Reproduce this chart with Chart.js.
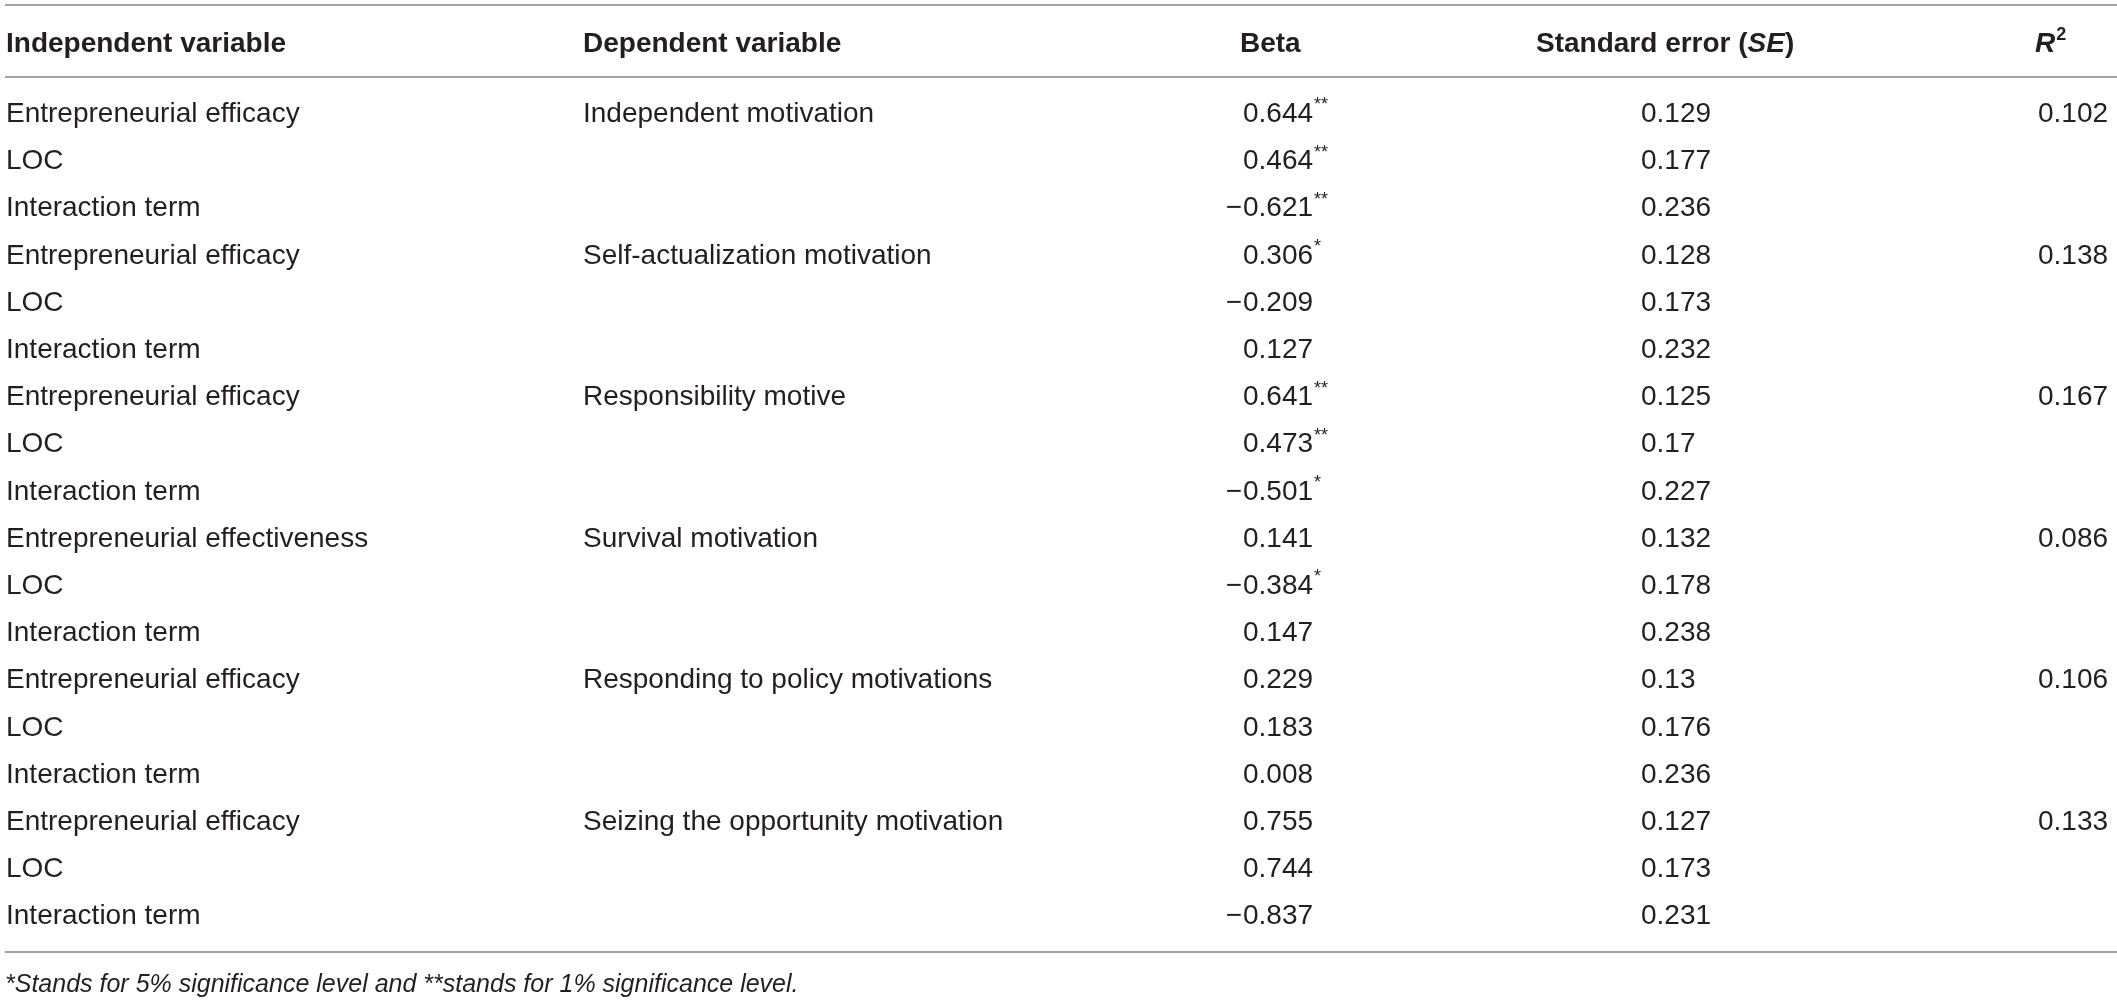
<!DOCTYPE html>
<html>
<head>
<meta charset="utf-8">
<script src="https://cdn.jsdelivr.net/npm/chart.js@4.4.1/dist/chart.umd.min.js"></script>
<style>
html, body { margin: 0; padding: 0; background: #fff; }
#wrap { position: relative; width: 2117px; height: 1001px; }
</style>
</head>
<body>
<div id="wrap"><canvas id="tableChart"></canvas></div>
<script>
// Table data
const independentVars = [
    'Entrepreneurial efficacy', 'LOC', 'Interaction term',
    'Entrepreneurial efficacy', 'LOC', 'Interaction term',
    'Entrepreneurial efficacy', 'LOC', 'Interaction term',
    'Entrepreneurial effectiveness', 'LOC', 'Interaction term',
    'Entrepreneurial efficacy', 'LOC', 'Interaction term',
    'Entrepreneurial efficacy', 'LOC', 'Interaction term'
];
const dependentVars = [
    'Independent motivation',
    'Self-actualization motivation',
    'Responsibility motive',
    'Survival motivation',
    'Responding to policy motivations',
    'Seizing the opportunity motivation'
];
const betaValues = [0.644, 0.464, -0.621, 0.306, -0.209, 0.127, 0.641, 0.473, -0.501,
    0.141, -0.384, 0.147, 0.229, 0.183, 0.008, 0.755, 0.744, -0.837];
const betaStars = ['**', '**', '**', '*', '', '', '**', '**', '*',
    '', '*', '', '', '', '', '', '', ''];
const seValues = [0.129, 0.177, 0.236, 0.128, 0.173, 0.232, 0.125, 0.17, 0.227,
    0.132, 0.178, 0.238, 0.13, 0.176, 0.236, 0.127, 0.173, 0.231];
const rSquared = [0.102, 0.138, 0.167, 0.086, 0.106, 0.133];
const footnote = '*Stands for 5% significance level and **stands for 1% significance level.';

// Layout
const FONT = '"Liberation Sans", Arial, sans-serif';
const TEXT_COLOR = '#231f20';
const RULE_COLOR = '#a3a3a3';
const ROW_PX = 47.2;
const FIRST_ROW_PX = 112;
const COL = { indep: 6, dep: 583, beta: 1243, se: 1641, r2: 2038 };
const HEADER_ROW = -1.483;
const RULE_ROWS = [-2.267, -0.742, 17.797];
const FOOT_ROW = 18.45;
const GROUP = 3;

function fmtBeta(v) {
    return { sign: v < 0 ? '\u2212' : '', num: Math.abs(v).toFixed(3) };
}

const rows = independentVars.map((_, i) => i);

const datasets = [
    { label: 'indep', data: rows.map(i => ({ x: COL.indep, y: i })), texts: independentVars },
    { label: 'dep', data: dependentVars.map((_, g) => ({ x: COL.dep, y: g * GROUP })), texts: dependentVars },
    { label: 'beta', data: rows.map(i => ({ x: COL.beta, y: i })), texts: betaValues },
    { label: 'se', data: rows.map(i => ({ x: COL.se, y: i })), texts: seValues.map(String) },
    { label: 'r2', data: rSquared.map((_, g) => ({ x: COL.r2, y: g * GROUP })), texts: rSquared.map(v => v.toFixed(3)) }
].map(d => Object.assign(d, { pointRadius: 0, pointHoverRadius: 0, showLine: false }));

// draw text so that the cap height is centred on y
function capText(ctx, text, x, y, size, style, align) {
    ctx.font = `${style || ''} ${size}px ${FONT}`;
    ctx.textAlign = align || 'left';
    ctx.textBaseline = 'alphabetic';
    ctx.fillText(text, x, y + size * 0.358);
    return ctx.measureText(text).width;
}

const tablePlugin = {
    id: 'tableText',
    afterDatasetsDraw(chart) {
        const ctx = chart.ctx;
        const yScale = chart.scales.y;
        const left = chart.chartArea.left + 5;
        const right = chart.chartArea.right;
        ctx.save();

        // horizontal rules
        ctx.strokeStyle = RULE_COLOR;
        ctx.lineWidth = 2;
        RULE_ROWS.forEach(r => {
            const y = yScale.getPixelForValue(r);
            ctx.beginPath();
            ctx.moveTo(left, y);
            ctx.lineTo(right, y);
            ctx.stroke();
        });

        ctx.fillStyle = TEXT_COLOR;

        // header
        const hy = yScale.getPixelForValue(HEADER_ROW);
        capText(ctx, 'Independent variable', COL.indep, hy, 28, 'bold');
        capText(ctx, 'Dependent variable', COL.dep, hy, 28, 'bold');
        capText(ctx, 'Beta', 1240, hy, 28, 'bold');
        let hx = 1536;
        hx += capText(ctx, 'Standard error (', hx, hy, 28, 'bold');
        hx += capText(ctx, 'SE', hx, hy, 28, 'italic bold');
        capText(ctx, ')', hx, hy, 28, 'bold');
        const rw = capText(ctx, 'R', 2035, hy, 28, 'italic bold');
        capText(ctx, '2', 2035 + rw + 1, hy - 8, 18, 'bold');

        // body cells
        chart.data.datasets.forEach((ds, di) => {
            const meta = chart.getDatasetMeta(di);
            meta.data.forEach((pt, k) => {
                const x = pt.x, y = pt.y;
                if (ds.label === 'beta') {
                    const b = fmtBeta(ds.texts[k]);
                    if (b.sign) capText(ctx, b.sign, x - 1, y, 28, '', 'right');
                    const w = capText(ctx, b.num, x, y, 28, '');
                    if (betaStars[k]) capText(ctx, betaStars[k], x + w + 1, y - 8, 18, '');
                } else {
                    capText(ctx, ds.texts[k], x, y, 28, '');
                }
            });
        });

        // footnote
        capText(ctx, footnote, 5, yScale.getPixelForValue(FOOT_ROW), 25, 'italic');
        ctx.restore();
    }
};

new Chart(document.getElementById('tableChart'), {
    type: 'scatter',
    data: { datasets },
    options: {
        responsive: true,
        maintainAspectRatio: false,
        animation: false,
        layout: { padding: 0 },
        plugins: { legend: { display: false }, tooltip: { enabled: false } },
        scales: {
            x: { type: 'linear', display: false, min: 0, max: 2117 },
            y: {
                type: 'linear', display: false, reverse: true,
                min: -FIRST_ROW_PX / ROW_PX,
                max: -FIRST_ROW_PX / ROW_PX + 1001 / ROW_PX
            }
        }
    },
    plugins: [tablePlugin]
});
</script>
</body>
</html>
